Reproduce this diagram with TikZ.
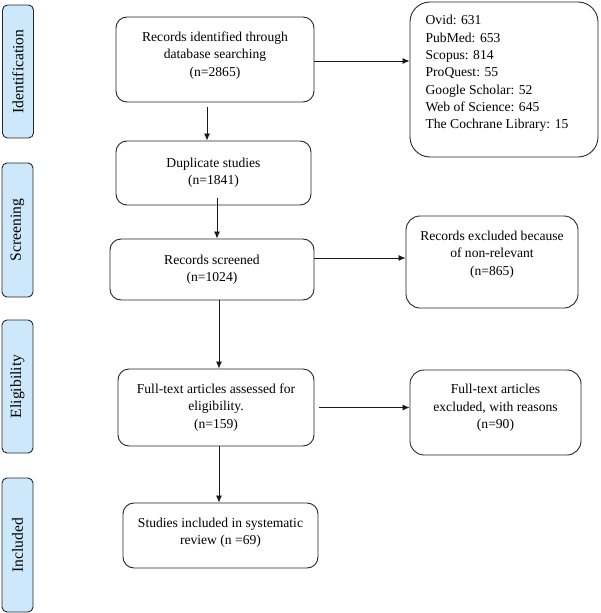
\documentclass[tikz,border=0pt]{standalone}
\usepackage{fontspec}
\setmainfont{Liberation Serif}
\usetikzlibrary{arrows.meta}
\definecolor{sideblue}{RGB}{205,232,250}
\begin{document}
\begin{tikzpicture}[x=1pt,y=-1pt,
  box/.style={draw=black!85, line width=0.9pt, rounded corners=11pt, align=center,
    font=\fontsize{13.6}{17.3}\selectfont, inner sep=0pt},
  side/.style={draw=black!85, fill=sideblue, line width=0.9pt, rounded corners=5pt,
    rotate=90, font=\fontsize{15.6}{19}\selectfont, inner sep=0pt},
  arr/.style={-{Latex[length=7pt,width=6pt]}, line width=0.8pt, draw=black!90}]
\useasboundingbox (0,0) rectangle (600,613);

% side labels
\node[side, minimum width=133, minimum height=31] (s1) at (18,71.5) {Identification};
\node[side, minimum width=134, minimum height=31] (s2) at (17.5,230) {Screening};
\node[side, minimum width=133, minimum height=31] (s3) at (17.5,386.5) {Eligibility};
\node[side, minimum width=134, minimum height=31] (s4) at (17.5,545) {Included};

% main boxes
\node[box, minimum width=198, minimum height=85, text depth=11pt] (b1) at (215,59.5)
  {Records identified through\\database searching\\(n=2865)};
\node[box, minimum width=195, minimum height=64] (b2) at (213.5,173)
  {Duplicate studies\\(n=1841)};
\node[box, minimum width=204, minimum height=61] (b3) at (212,269.5)
  {Records screened\\(n=1024)};
\node[box, minimum width=196, minimum height=77] (b4) at (216,407.5)
  {Full-text articles assessed for\\eligibility.\\(n=159)};
\node[box, minimum width=195, minimum height=65, text depth=8pt] (b5) at (220.5,535.5)
  {Studies included in systematic\\review (n =69)};

% right boxes
\node[box, rounded corners=20pt, minimum width=188, minimum height=155, text depth=15pt,
  align=left] (r1) at (504,79.5)
  {Ovid: 631\\PubMed: 653\\Scopus: 814\\ProQuest: 55\\Google Scholar: 52\\Web of Science: 645\\The Cochrane Library: 15\hspace*{14pt}};
\node[box, rounded corners=14pt, minimum width=172, minimum height=92, text depth=18pt] (r2) at (492,262)
  {Records excluded because\\of non-relevant\\(n=865)};
\node[box, rounded corners=14pt, minimum width=171, minimum height=85, text depth=12pt] (r3) at (495.5,412.5)
  {Full-text articles\\excluded, with reasons\\(n=90)};

% helper coordinates
\coordinate (x1) at (207,0);
\coordinate (x2) at (217,0);
\coordinate (x3) at (219,0);
\coordinate (y6) at (0,258);

% connectors
\draw[arr] ([yshift=-5pt]b1.south -| x1) -- (b2.north -| x1);
\draw[arr] ([yshift=7pt]b2.south -| x2) -- (b3.north -| x2);
\draw[arr] (b3.south -| x3) -- (b4.north -| x3);
\draw[arr] (b4.south -| x3) -- (b5.north -| x3);
\draw[arr] ([yshift=-1.5pt]b1.east) -- ([yshift=-1.5pt]b1.east -| r1.west);
\draw[arr] (b3.east |- y6) -- (r2.west |- y6);
\draw[arr] ([xshift=5pt]b4.east) -- (r3.west |- b4.east);
\end{tikzpicture}
\end{document}
